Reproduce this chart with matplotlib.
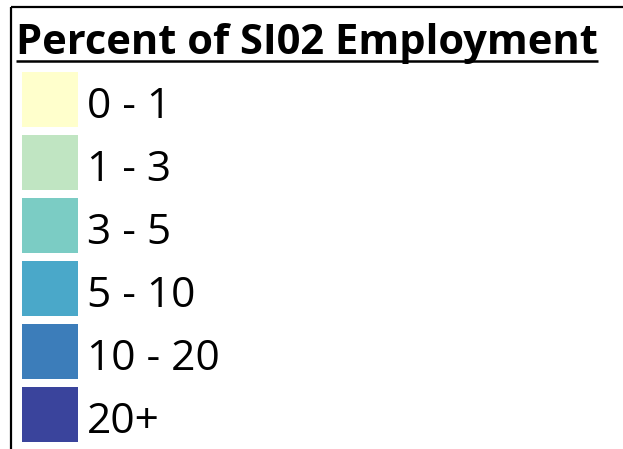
import matplotlib
matplotlib.use("Agg")
import matplotlib.pyplot as plt
from matplotlib.patches import Rectangle

title = "Percent of SI02 Employment"
labels = ["0 - 1", "1 - 3", "3 - 5", "5 - 10", "10 - 20", "20+"]
colors = ["#FFFFCC", "#C0E5C2", "#7BCCC4", "#4AA8C9", "#3C7DBA", "#3A449C"]

W, H = 623, 449
fig = plt.figure(figsize=(W / 100, H / 100), dpi=100)
ax = fig.add_axes([0, 0, 1, 1])
ax.set_xlim(0, W)
ax.set_ylim(H, 0)
ax.axis("off")

# frame lines (top and left)
ax.plot([11, W], [6.5, 6.5], color="black", lw=1.6, solid_capstyle="butt")
ax.plot([11, 11], [6.5, H], color="black", lw=1.6, solid_capstyle="butt")

# title with underline
t = ax.text(16, 54, title, fontsize=30, fontweight="bold", family="Open Sans",
            va="baseline", ha="left", color="black")
fig.canvas.draw()
bb = t.get_window_extent()
x0, x1 = bb.x0, bb.x1
ax.plot([x0, x1], [61, 61], color="black", lw=1.8, solid_capstyle="butt")

y_start, pitch, sw, sh = 72, 63, 56, 55
for i, (lab, c) in enumerate(zip(labels, colors)):
    y = y_start + i * pitch
    ax.add_patch(Rectangle((22, y), sw, sh, facecolor=c, edgecolor="none"))
    ax.text(87, y + 46, lab.replace(" - ", "  -  ") if False else lab,
            fontsize=30.5, family="Open Sans", va="baseline",
            ha="left", color="black")

fig.savefig("out.png", dpi=100)
